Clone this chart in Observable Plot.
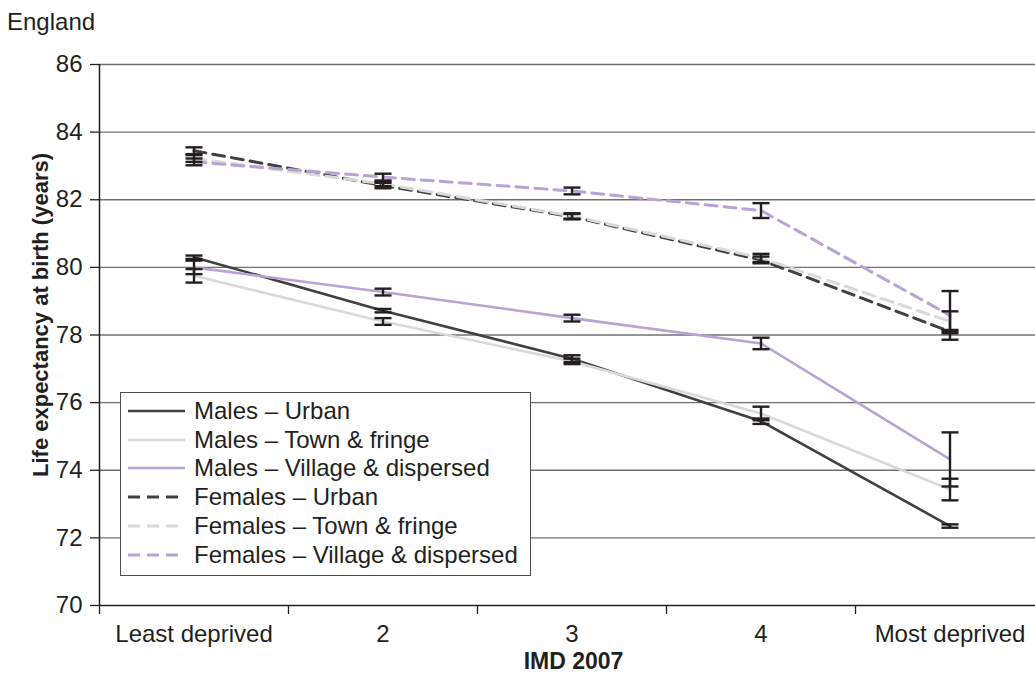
<!DOCTYPE html>
<html>
<head>
<meta charset="utf-8">
<script src="https://cdn.jsdelivr.net/npm/d3@7"></script>
<script src="https://cdn.jsdelivr.net/npm/@observablehq/plot@0.6"></script>
<style>
  html, body { margin: 0; padding: 0; background: #fff; }
  body { width: 1035px; height: 677px; overflow: hidden; position: relative; font-family: "Liberation Sans", Arial, sans-serif; color: #231f20; }
  #title { height: 44px; line-height: 44px; font-size: 24px; padding-left: 7px; }
  #legend { position: absolute; left: 120px; top: 392px; width: 411px; height: 184px; background: #fff; border: 1px solid #4d4d4d; box-sizing: border-box; }
  .row { position: absolute; left: 0; height: 28px; display: flex; align-items: center; font-size: 24px; white-space: nowrap; }
  .row svg { margin-left: 7px; margin-right: 9px; }
</style>
</head>
<body>
<div id="title">England</div>
<div id="chart"></div>
<div id="legend"></div>
<script>
const categories = ["Least deprived", "2", "3", "4", "Most deprived"];
const seriesNames = ["Males – Urban", "Males – Town & fringe", "Males – Village & dispersed",
                     "Females – Urban", "Females – Town & fringe", "Females – Village & dispersed"];
const seriesColors = ["#404040", "#d9d9d9", "#b8a3d5", "#404040", "#d9d9d9", "#b8a3d5"];
const seriesSex = ["Males", "Males", "Males", "Females", "Females", "Females"];

const malesUrban = [80.3, 78.72, 77.3, 75.45, 72.35];
const malesUrbanErr = [0.05, 0.05, 0.1, 0.08, 0.05];
const malesTown = [79.75, 78.4, 77.22, 75.68, 73.43];
const malesTownErr = [0.2, 0.1, 0.08, 0.2, 0.32];
const malesVillage = [80.0, 79.27, 78.5, 77.75, 74.32];
const malesVillageErr = [0.2, 0.1, 0.1, 0.17, 0.8];
const femalesUrban = [83.45, 82.42, 81.5, 80.22, 78.1];
const femalesUrbanErr = [0.1, 0.08, 0.08, 0.1, 0.05];
const femalesTown = [83.22, 82.47, 81.52, 80.28, 78.4];
const femalesTownErr = [0.1, 0.07, 0.08, 0.12, 0.3];
const femalesVillage = [83.12, 82.67, 82.26, 81.68, 78.58];
const femalesVillageErr = [0.1, 0.1, 0.1, 0.22, 0.72];

const yTicks = [70, 72, 74, 76, 78, 80, 82, 84, 86];

const values = [malesUrban, malesTown, malesVillage, femalesUrban, femalesTown, femalesVillage];
const errors = [malesUrbanErr, malesTownErr, malesVillageErr, femalesUrbanErr, femalesTownErr, femalesVillageErr];

const rows = [];
seriesNames.forEach((s, k) => {
  categories.forEach((c, i) => {
    rows.push({series: s, sex: seriesSex[k], color: seriesColors[k], pos: i + 0.5,
               value: values[k][i], lo: values[k][i] - errors[k][i], hi: values[k][i] + errors[k][i]});
  });
});
const males = rows.filter(d => d.sex === "Males");
const females = rows.filter(d => d.sex === "Females");

const capSymbol = { draw(context) { context.moveTo(-8.5, 0); context.lineTo(8.5, 0); } };
const barColor = "#231f20";

const chart = Plot.plot({
  width: 1035,
  height: 633,
  marginTop: 20,
  marginBottom: 72,
  marginLeft: 99,
  marginRight: 0,
  x: {type: "linear", domain: [0, categories.length], range: [99, 99 + 189 * categories.length], axis: null},
  y: {domain: [70, 86], axis: null},
  style: {fontFamily: "'Liberation Sans', Arial, sans-serif", fontSize: "24px", color: "#231f20", background: "transparent"},
  marks: [
    Plot.ruleY(yTicks.filter(v => v > 70), {stroke: "#707070", strokeWidth: 1.3}),
    Plot.axisY({ticks: yTicks, tickSize: 9, tickPadding: 8, tickFormat: d => d, label: null, fontSize: 24, stroke: "#231f20", strokeWidth: 1.3}),
    Plot.axisX({ticks: d3.range(categories.length + 1), tickSize: 9, tickFormat: () => "", label: null, stroke: "#231f20", strokeWidth: 1.3}),
    Plot.axisX({ticks: categories.map((c, i) => i + 0.5), tickSize: 0, tickPadding: 19, tickFormat: d => categories[Math.floor(d)], label: null, fontSize: 24}),
    Plot.ruleX([0], {stroke: "#231f20", strokeWidth: 1.5}),
    Plot.ruleY([70], {stroke: "#231f20", strokeWidth: 1.5}),
    Plot.line(males, {x: "pos", y: "value", z: "series", stroke: "color", strokeWidth: 2.6}),
    Plot.line(females, {x: "pos", y: "value", z: "series", stroke: "color", strokeWidth: 3, strokeDasharray: "12,7"}),
    Plot.ruleX(rows, {x: "pos", y1: "lo", y2: "hi", stroke: barColor, strokeWidth: 2.4}),
    Plot.dot(rows, {x: "pos", y: "lo", symbol: capSymbol, stroke: barColor, strokeWidth: 2.4, fill: "none"}),
    Plot.dot(rows, {x: "pos", y: "hi", symbol: capSymbol, stroke: barColor, strokeWidth: 2.4, fill: "none"}),
    Plot.text(["Life expectancy at birth (years)"], {frameAnchor: "left", textAnchor: "middle", lineAnchor: "middle", rotate: -90, dx: -59, dy: -20, fontWeight: "bold", fontSize: 22, fill: "#231f20"}),
    Plot.text(["IMD 2007"], {frameAnchor: "bottom", textAnchor: "middle", lineAnchor: "middle", dy: 56, dx: 6, fontWeight: "bold", fontSize: 23, fill: "#231f20"})
  ]
});
document.getElementById("chart").appendChild(chart);

// Legend
const legend = document.getElementById("legend");
seriesNames.forEach((s, k) => {
  const row = document.createElement("div");
  row.className = "row";
  row.style.top = (4 + k * 28.7) + "px";
  const dash = seriesSex[k] === "Females" ? 'stroke-dasharray="12,7"' : "";
  const sw = seriesSex[k] === "Females" ? 3 : 2.6;
  row.innerHTML = `<svg width="57" height="10"><line x1="0" x2="57" y1="5" y2="5" stroke="${seriesColors[k]}" stroke-width="${sw}" ${dash}/></svg><span>${s}</span>`;
  legend.appendChild(row);
});
</script>
</body>
</html>
